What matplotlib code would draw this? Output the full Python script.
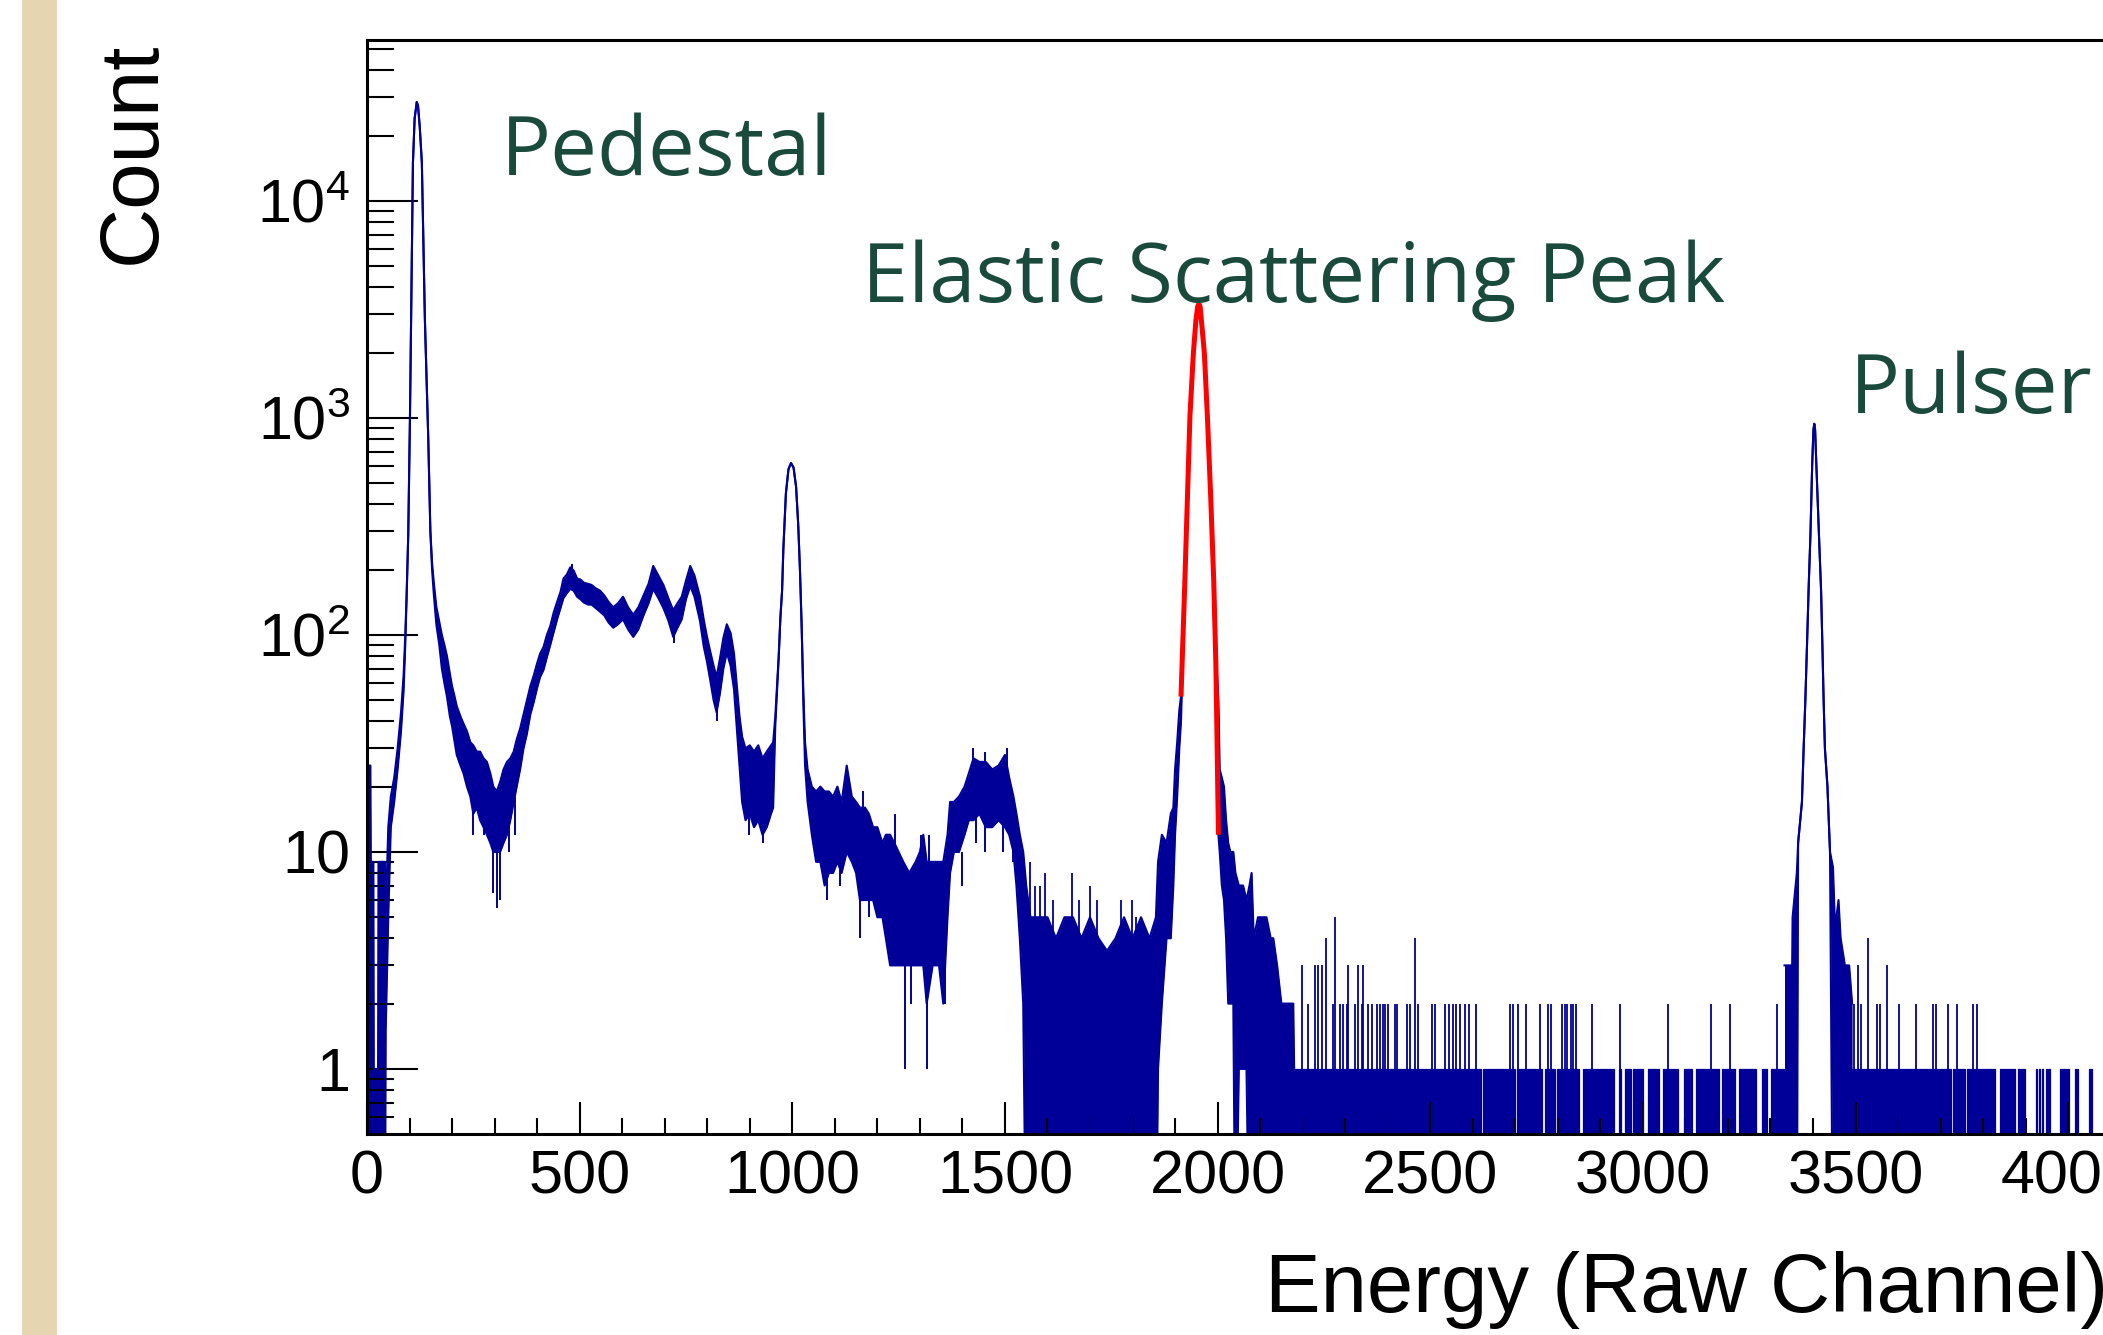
#!/usr/bin/env python3
import numpy as np
import matplotlib
matplotlib.use('Agg')
import matplotlib.pyplot as plt
from matplotlib.patches import Rectangle
from matplotlib.ticker import (MultipleLocator, LogLocator, FixedLocator,
                               FixedFormatter, NullFormatter)

# --- histogram: channel, upper / lower edge of the noisy trace ---
# pedestal (0-165)
ped_ch = [0, 8, 9, 15, 16, 26, 27, 42, 44, 50, 56, 64, 72, 80, 86, 90, 93, 97, 101, 104,
          108, 112, 117, 120, 124, 129, 132, 136, 140, 144, 149, 153, 157, 163]
ped_hi = [25, 25, 9, 9, 1, 1, 9, 9, 5, 13, 18, 22, 30, 44, 65, 100, 150, 290, 1000, 3200,
          15000, 24000, 28600, 27500, 22000, 15000, 7500, 2900, 1500, 810, 300, 215, 175, 135]
ped_lo = [0, 0, 0, 0, 0, 0, 0, 0, 1.5, 5, 13, 17, 24, 36, 55, 90, 145, 290, 1000, 3200,
          15000, 24000, 28600, 27500, 22000, 15000, 7500, 2900, 1500, 810, 300, 200, 155, 112]

# continuum (170-950)
cont_ch = [170, 176, 182, 188, 195, 200, 205, 211, 220, 227,
           235, 243, 250, 258, 266, 274, 282, 290, 297, 305,
           313, 321, 329, 337, 345, 352, 360, 368, 376, 384,
           392, 400, 407, 415, 423, 431, 439, 447, 455, 462,
           470, 478, 486, 494, 502, 510, 520, 528, 538, 548,
           558, 568, 579, 590, 602, 614, 626, 638, 650, 662,
           673, 685, 697, 709, 720, 730, 740, 750, 760, 770,
           783, 792, 799, 807, 815, 822, 830, 838, 846, 855,
           863, 870, 876, 882, 890, 900, 910, 920, 930, 940, 950]
cont_hi = [115, 100, 90, 80, 66, 58, 53, 47, 42, 39,
           36, 32, 31, 29, 29, 27, 26, 23, 20, 19,
           21, 24, 26, 27, 29, 33, 37, 43, 50, 58,
           65, 74, 82, 88, 100, 110, 127, 142, 158, 182,
           190, 205, 198, 182, 180, 174, 172, 170, 164, 160,
           152, 142, 134, 140, 150, 134, 124, 134, 152, 172,
           208, 188, 170, 147, 130, 140, 150, 178, 208, 188,
           150, 117, 99, 84, 72, 64, 78, 97, 112, 102,
           82, 57, 42, 34, 30, 31, 29, 31, 27, 29, 31]
cont_lo = [90, 70, 60, 52, 42, 38, 33, 28, 25, 23,
           20, 18, 15, 16, 14, 13, 12, 11, 10, 10,
           10, 11, 12, 14, 17, 20, 24, 30, 35, 43,
           49, 57, 64, 69, 79, 90, 103, 118, 133, 148,
           156, 163, 160, 150, 146, 141, 138, 138, 133, 128,
           123, 114, 108, 112, 118, 106, 98, 106, 123, 140,
           163, 148, 133, 116, 98, 108, 118, 146, 168, 150,
           116, 88, 76, 62, 50, 44, 54, 70, 83, 72,
           56, 36, 25, 17, 14, 15, 13, 14, 12, 13, 15]

# peak near 1000 and the shoulder up to 1550
p1k_ch = [955, 960, 964, 968, 972, 976, 979, 985, 991, 997,
          1003, 1009, 1014, 1018, 1022, 1026, 1030, 1036, 1046, 1056,
          1066, 1076, 1086, 1096, 1106, 1116, 1128, 1140, 1150, 1159,
          1171, 1180, 1190, 1200, 1212, 1220, 1230, 1240, 1250, 1261,
          1275, 1290, 1300, 1308, 1316, 1330, 1345, 1355, 1365, 1371,
          1380, 1392, 1405, 1415, 1426, 1440, 1455, 1470, 1485, 1500,
          1510, 1520, 1527, 1535, 1543]
p1k_hi = [32, 42, 58, 80, 120, 160, 250, 450, 580, 620,
          590, 480, 320, 200, 110, 55, 32, 24, 20, 19,
          20, 19, 19, 18, 20, 17, 25, 18, 17, 16,
          16, 15, 13, 13, 11, 12, 12, 11, 10, 9,
          8, 9, 10, 12, 9, 9, 9, 9, 12, 17,
          17, 18, 20, 23, 27, 26, 26, 24, 25, 28,
          22, 18, 15, 12, 10]
p1k_lo = [16, 38, 55, 78, 120, 160, 250, 450, 580, 620,
          590, 480, 320, 200, 110, 48, 25, 17, 12, 9,
          9, 7, 8, 8, 9, 8, 10, 9, 8, 6,
          6, 6, 6, 5, 5, 4, 3, 3, 3, 3,
          3, 3, 3, 3, 2, 3, 3, 2, 5, 8,
          10, 10, 12, 14, 14, 15, 13, 13, 14, 13,
          12, 10, 7, 4, 2]

# low-count region and elastic peak (1550-2180)
low_ch = [1550, 1560, 1580, 1600, 1620, 1640, 1660, 1680, 1700, 1720,
          1740, 1760, 1780, 1800, 1820, 1840, 1855, 1860, 1869, 1880,
          1890, 1896, 1900, 1905, 1910, 1914, 1923, 1929, 1935, 1943,
          1949, 1956, 1962, 1969, 1976, 1984, 1991, 1996, 2000, 2002,
          2005, 2010, 2015, 2020, 2025, 2030, 2037, 2042, 2050, 2060,
          2068, 2075, 2080, 2085, 2095, 2105, 2115, 2125, 2131, 2140,
          2150, 2178, 2180]
low_hi = [7, 5, 5, 5, 4, 5, 5, 4, 5, 4,
          3.5, 4, 5, 4, 5, 4, 5, 9, 12, 11,
          15, 16, 24, 32, 45, 52, 176, 424, 1020, 1980,
          2810, 3360, 2810, 1980, 1020, 424, 176, 80, 60, 49,
          24, 22, 20, 14, 11, 10, 10, 8, 7, 7,
          6, 7, 8, 4, 5, 5, 5, 4, 4, 3,
          2, 2, 1]
low_lo = [0, 0, 0, 0, 0, 0, 0, 0, 0, 0,
          0, 0, 0, 0, 0, 0, 0, 1, 2, 4,
          4, 7, 12, 18, 30, 40, 176, 424, 1020, 1980,
          2810, 3360, 2810, 1980, 1020, 424, 176, 73, 30, 12,
          10, 7, 6, 4, 2, 2, 2, 0, 1, 1,
          1, 0, 0, 0, 0, 0, 0, 0, 0, 0,
          0, 0, 0]

# pulser
pul_ch = [3333, 3351, 3352, 3362, 3365, 3370, 3374, 3378, 3382, 3386, 3390, 3394, 3398, 3401,
          3403, 3405, 3408, 3414, 3419, 3422, 3425, 3428, 3434, 3440, 3447, 3451, 3455, 3460,
          3465, 3475, 3485, 3492]
pul_hi = [3, 3, 5, 8, 11, 14, 17, 30, 50, 91, 170, 290, 600, 880,
          940, 880, 600, 290, 160, 91, 50, 30, 20, 10, 8.5, 5, 5, 6,
          4, 3, 3, 2]
pul_lo = [0, 0, 0, 0, 11, 14, 17, 30, 50, 91, 170, 290, 600, 880,
          940, 880, 600, 290, 160, 91, 50, 30, 20, 10, 0, 0, 0, 0,
          0, 0, 0, 0]

# tail above 2180: 0/1 counts, channels with no counts at all
tail_start, tail_end = 2180, 4096
gap_a = [2369, 2619, 2634, 2700, 2763, 2793, 2849, 2933, 2949, 2971,
         3000, 3037, 3082, 3116, 3180, 3216, 3265, 3293, 3333, 3724,
         3757, 3829, 3876, 3899, 3927, 3933, 3940, 3957, 4003, 4022, 4057]
gap_b = [2371, 2623, 2637, 2703, 2771, 2797, 2860, 2944, 2958, 2976,
         3013, 3048, 3096, 3125, 3187, 3227, 3279, 3302, 3492, 3729,
         3763, 3840, 3883, 3925, 3931, 3938, 3947, 3980, 4017, 4050, 4096]

# single-channel spikes rising from empty / low bins
spike_ch = [1559, 1571, 1582, 1594, 1614, 1657, 1673, 1700, 1716, 1774, 1798, 1809,
            2198, 2213, 2229, 2237, 2245, 2256, 2272, 2276, 2288, 2296, 2304, 2307, 2323,
            2329, 2339, 2343, 2354, 2362, 2376, 2382, 2388, 2394, 2401, 2417, 2423, 2445,
            2452, 2464, 2472, 2503, 2511, 2535, 2543, 2554, 2561, 2569, 2582, 2590, 2608,
            2687, 2694, 2707, 2725, 2757, 2777, 2784, 2809, 2816, 2822, 2830, 2836, 2843,
            2881, 2947, 3060, 3161, 3205, 3315, 3496, 3505, 3514, 3530, 3550, 3557, 3573,
            3603, 3643, 3683, 3689, 3718, 3738, 3776, 3785]
spike_n = [9, 7, 7, 8, 6, 8, 6, 7, 6, 6, 6, 5,
           3, 2, 3, 3, 3, 4, 2, 5, 2, 2, 2, 3, 2,
           3, 2, 3, 2, 2, 2, 2, 2, 2, 2, 2, 2, 2,
           2, 4, 2, 2, 2, 2, 2, 2, 2, 2, 2, 2, 2,
           2, 2, 2, 2, 2, 2, 2, 2, 2, 2, 2, 2, 2,
           2, 2, 2, 2, 2, 2, 2, 3, 2, 4, 2, 2, 3,
           2, 2, 2, 2, 2, 2, 2, 2]

# isolated up / down fluctuations inside the busy parts of the trace
fluct_ch = [215, 250, 274, 294, 297, 305, 313, 333, 349, 481, 721, 824, 898, 932,
            1081, 1112, 1159, 1166, 1180, 1207, 1236, 1242, 1265, 1280, 1303, 1316, 1321,
            1359, 1398, 1426, 1433, 1452, 1454, 1496, 1504, 1520]
fluct_lo = [27, 12, 12, 11, 6.5, 5.5, 6, 10, 12, 180, 92, 40, 12, 11,
            6, 7, 4, 12, 5, 5, 3, 9, 1, 2, 7, 1, 7,
            2, 7, 20, 11, 10, 20, 10, 20, 9]
fluct_hi = [40, 18, 20, 16, 12, 11, 12, 16, 18, 212, 110, 52, 20, 16,
            10, 11, 8, 19, 8, 8, 5, 15, 3.5, 4, 12, 3, 12,
            3, 10, 30, 15, 15, 29, 15, 30, 14]

# gaussian fit drawn over the elastic peak
fit_ch = [1914, 1923, 1929, 1935, 1943, 1949, 1953, 1956, 1959, 1962, 1969, 1976, 1984,
          1991, 1996, 1999, 2002]
fit_cnt = [52, 176, 424, 1020, 1980, 2810, 3250, 3360, 3250, 2810, 1980, 1020, 424,
           176, 73, 30, 12]

y_ticks = [1, 10, 100, 1000, 10000]
y_labels = ['1', '10', r'$\mathregular{10^{2}}$', r'$\mathregular{10^{3}}$',
            r'$\mathregular{10^{4}}$']

BLUE = '#000099'
TXT = '#1A4A3C'
FLOOR = 0.1   # stand-in for empty bins on the log axis
W, H = 2103, 1335

plt.rcParams['font.family'] = ['Liberation Sans', 'DejaVu Sans']
plt.rcParams['mathtext.fontset'] = 'custom'
plt.rcParams['mathtext.rm'] = 'Liberation Sans'

fig = plt.figure(figsize=(W / 100, H / 100), dpi=100)
fig.patches.append(Rectangle((22 / W, 0), 35 / W, 1, transform=fig.transFigure,
                             facecolor='#E5D6B1', edgecolor='none'))
ax = fig.add_axes([367 / W, 201 / H, 1742 / W, 1094 / H])


def band(ch, lo, hi):
    ch = np.asarray(ch, float)
    lo = np.where(np.asarray(lo, float) > 0, lo, FLOOR)
    hi = np.where(np.asarray(hi, float) > 0, hi, FLOOR)
    ax.fill_between(ch, lo, hi, color=BLUE, lw=0)
    ax.plot(ch, hi, color=BLUE, lw=1.5, solid_joinstyle='round')
    ax.plot(ch, lo, color=BLUE, lw=1.5, solid_joinstyle='round')


band(ped_ch + cont_ch + p1k_ch + low_ch, ped_lo + cont_lo + p1k_lo + low_lo,
     ped_hi + cont_hi + p1k_hi + low_hi)
band(pul_ch, pul_lo, pul_hi)

# tail as a step band
tx, ty = [tail_start], [1]
for a, b in zip(gap_a, gap_b):
    tx += [a, b]
    ty += [FLOOR, 1]
ax.fill_between(tx, FLOOR, ty, step='post', color=BLUE, lw=0)
ax.step(tx, ty, where='post', color=BLUE, lw=0.9)

ax.vlines(spike_ch, FLOOR, spike_n, color=BLUE, lw=1.3)
ax.vlines(fluct_ch, fluct_lo, fluct_hi, color=BLUE, lw=1.4)

ax.plot(fit_ch, fit_cnt, color='red', lw=3.6, solid_capstyle='butt')

ax.set_yscale('log')
ax.set_xlim(0, 4096)
ax.set_ylim(10 ** -0.3, 10 ** 4.742)

ax.xaxis.set_major_locator(MultipleLocator(500))
ax.xaxis.set_minor_locator(MultipleLocator(100))
ax.yaxis.set_major_locator(FixedLocator(y_ticks))
ax.yaxis.set_major_formatter(FixedFormatter(y_labels))
ax.yaxis.set_minor_locator(LogLocator(base=10, subs=np.arange(2, 10), numticks=20))
ax.yaxis.set_minor_formatter(NullFormatter())

ax.tick_params(axis='both', which='both', direction='in', top=False, right=False,
               width=1.5, color='black')
ax.tick_params(axis='y', which='major', length=37, pad=12, labelsize=44)
ax.tick_params(axis='y', which='minor', length=19.5)
ax.tick_params(axis='x', which='major', length=23, pad=11, labelsize=44)
ax.tick_params(axis='x', which='minor', length=11.5)
for s in ax.spines.values():
    s.set_linewidth(2.2)

fig.text(2108 / W, 1 - 1312 / H, 'Energy (Raw Channel)', fontsize=60,
         ha='right', va='baseline')
fig.text(155 / W, 1 - 42 / H, 'Count', fontsize=60, rotation=90,
         rotation_mode='anchor', ha='right', va='baseline')

ann = dict(fontsize=60, color=TXT, family=['Open Sans', 'DejaVu Sans'], va='baseline')
fig.text(501 / W, 1 - 175 / H, 'Pedestal', **ann)
fig.text(862 / W, 1 - 302 / H, 'Elastic Scattering Peak', **ann)
fig.text(1850 / W, 1 - 413 / H, 'Pulser', **ann)

fig.savefig('out.png', dpi=100)
